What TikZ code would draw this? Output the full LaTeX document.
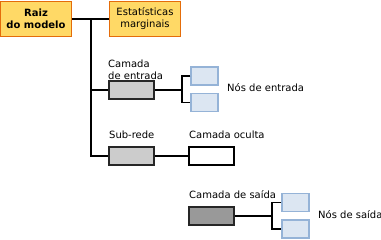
\documentclass[tikz,border=0pt]{standalone}
\usepackage{fontspec}
\setmainfont{DejaVu Sans}
\definecolor{rootfill}{HTML}{FFD966}
\definecolor{rootdraw}{HTML}{E46C0A}
\definecolor{infill}{HTML}{DCE6F2}
\definecolor{indraw}{HTML}{95B3D7}
\begin{document}
\begin{tikzpicture}[x=1pt,y=-1pt,
  every node/.style={font=\fontsize{10}{12}\selectfont, inner sep=0pt},
  rootbox/.style={draw=rootdraw, fill=rootfill, line width=1.2pt, minimum width=71pt, minimum height=35pt, align=center},
  graybox/.style={draw=black!85, fill=black!20, line width=1.2pt, minimum width=45pt, minimum height=18pt},
  darkbox/.style={draw=black!85, fill=black!40, line width=1.2pt, minimum width=45pt, minimum height=18pt},
  whitebox/.style={draw=black, fill=white, line width=1.2pt, minimum width=45pt, minimum height=18pt},
  bluebox/.style={draw=indraw, fill=infill, line width=1.2pt, minimum width=27pt, minimum height=18pt},
  conn/.style={line width=1.6pt},
  lbl/.style={anchor=west, align=left}]
\useasboundingbox (0,0) rectangle (381,239);
\node[rootbox, font=\fontsize{10}{12.5}\selectfont\bfseries] (root) at (36,19) {Raiz\\do modelo};
\node[rootbox] (stats) at (145,19) {Estatísticas\\marginais};
\coordinate (trunkTop) at (91,19);
\coordinate (trunkBot) at (91,156);
\node[graybox] (inlayer) at (131.5,90) {};
\node[graybox] (subnet) at (131.5,156) {};
\node[whitebox] (hidden) at (211.5,156) {};
\node[darkbox] (outlayer) at (211.5,216) {};
\node[bluebox] (in1) at (204.5,76) {};
\node[bluebox] (in2) at (204.5,102.5) {};
\node[bluebox] (out1) at (295.5,202.5) {};
\node[bluebox] (out2) at (295.5,229) {};
\coordinate (inFork) at (182,90);
\coordinate (outFork) at (272,216);
\node[lbl] (inlbl) at (108,70) {Camada\\de entrada};
\node[lbl] (innodes) at (227,88) {Nós de entrada};
\node[lbl] (sublbl) at (109,135) {Sub-rede};
\node[lbl] (hidlbl) at (189,135) {Camada oculta};
\node[lbl] (outlbl) at (189,195) {Camada de saída};
\node[lbl] (outnodes) at (318,215) {Nós de saída};
\draw[conn] (root.east) -- (stats.west);
\draw[conn] (trunkTop) -- (trunkBot) -- (subnet.west);
\draw[conn] (trunkTop |- inlayer.west) -- (inlayer.west);
\draw[conn] (inlayer.east) -- (inFork);
\draw[conn] (in1.west) -| (inFork) |- (in2.west);
\draw[conn] (subnet.east) -- (hidden.west);
\draw[conn] (outlayer.east) -- (outFork);
\draw[conn] (out1.west) -| (outFork) |- (out2.west);
\end{tikzpicture}
\end{document}
